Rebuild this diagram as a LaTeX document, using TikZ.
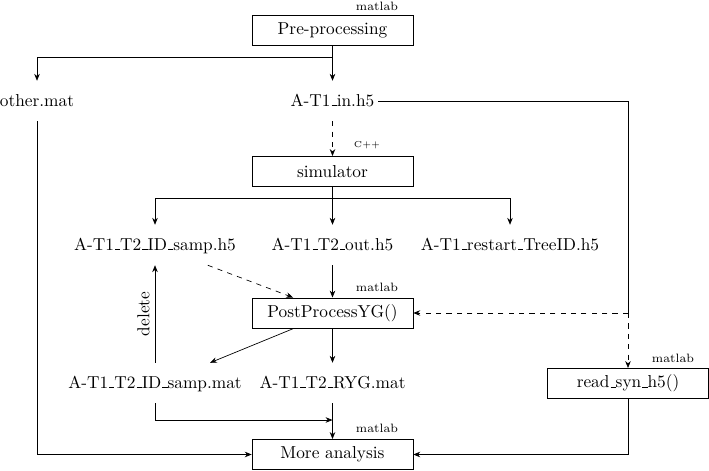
\documentclass[tikz,border=0pt]{standalone}
\usetikzlibrary{arrows.meta}
\newcommand\usc{\leavevmode\kern.06em\vbox{\hrule width.3em}}
\begin{document}
\begin{tikzpicture}[x=0.578pt,y=-0.578pt,
  box/.style={draw,minimum width=93pt,minimum height=17.5pt,inner sep=2pt},
  file/.style={minimum height=23pt,inner xsep=2pt,inner ysep=1pt,text height=1.6ex,text depth=.25ex},
  lab/.style={font=\scriptsize,inner sep=0pt},
  >={Stealth[length=4pt,width=3.2pt]}]
\useasboundingbox (0,0) rectangle (709,471);
% nodes
\node[box] (pre) at (332.5,30) {Pre-processing};
\node[lab] (prelab) at (377,6) {matlab};
\node[file] (other) at (37,101) {other.mat};
\node[file] (in) at (332.5,101) {A-T1\usc in.h5};
\node[box] (sim) at (332.5,171.5) {simulator};
\node[lab,font=\tiny] (simlab) at (367,145) {C++};
\node[file] (samph5) at (155,245) {A-T1\usc T2\usc ID\usc samp.h5};
\node[file] (outh5) at (332.5,245) {A-T1\usc T2\usc out.h5};
\node[file] (restart) at (510,245) {A-T1\usc restart\usc TreeID.h5};
\node[box] (post) at (332.5,313) {PostProcessYG()};
\node[lab] (postlab) at (377,287) {matlab};
\node[file] (sampmat) at (155,383) {A-T1\usc T2\usc ID\usc samp.mat};
\node[file] (ryg) at (332.5,383) {A-T1\usc T2\usc RYG.mat};
\node[box] (read) at (628,383.5) {read\usc syn\usc h5()};
\node[lab] (readlab) at (673,358) {matlab};
\node[box] (more) at (332.5,454.5) {More analysis};
\node[lab] (morelab) at (377,428) {matlab};
% junctions
\coordinate (s1) at (332.5,57);
\coordinate (s2) at (332.5,198);
\coordinate (rc) at (628,101);
\coordinate (rj) at (628,313);
\coordinate (j3) at (332.5,420);
% connectors
\draw (pre.south) -- (s1);
\draw[->] (s1) -| (other.north);
\draw[->] (s1) -- (in.north);
\draw[dashed,->] (in.south) -- (sim.north);
\draw (in.east) -- (rc) -- (rj);
\draw[dashed,->] (rj) -- (read.north);
\draw[dashed,->] (rj) -- (post.east);
\draw[->] (other.south) |- (more.west);
\draw (sim.south) -- (s2);
\draw[->] (s2) -| (samph5.north);
\draw[->] (s2) -- (outh5.north);
\draw[->] (s2) -| (restart.north);
\draw[dashed,->] ([xshift=30.5pt]samph5.south) -- ([xshift=-22.8pt]post.north);
\draw[->] (outh5.south) -- (post.north);
\draw[->] (post.south) -- (ryg.north);
\draw[->] ([xshift=-22.5pt]post.south) -- ([xshift=31.8pt]sampmat.north);
\draw[->] (sampmat.north) -- (samph5.south) node[midway,sloped,above,inner sep=3pt] {delete};
\draw[->] (sampmat.south) |- (j3);
\draw[->] (ryg.south) -- (more.north);
\draw[->] (read.south) |- (more.east);
\end{tikzpicture}
\end{document}
